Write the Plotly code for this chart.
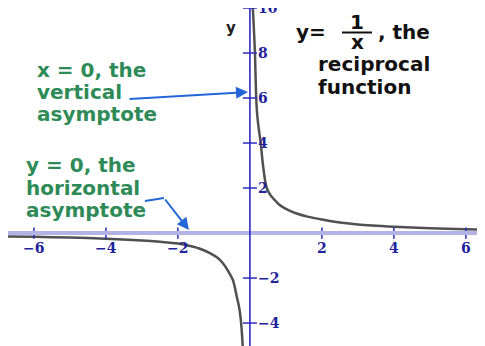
import plotly.graph_objects as go

# page is 485x346, the plot div sits 8px in from the top-left corner
W, H = 477, 338

# curve points
pos_x = [0.07, 0.1, 0.14, 0.17, 0.2, 0.24, 0.3, 0.34, 0.38, 0.42, 0.46, 0.52, 0.6, 0.7, 0.8, 0.95, 1.1, 1.3,
         1.6, 2.0, 2.5, 3.0, 4.0, 5.0, 6.0, 6.6]
pos_y = [10.3, 9.4, 8.0, 6.2, 5.3, 4.7, 4.0, 3.35, 2.8, 2.35, 2.05, 1.82, 1.62, 1.45, 1.28, 1.12, 1.0, 0.87,
         0.73, 0.6, 0.47, 0.38, 0.28, 0.21, 0.17, 0.15]
neg_x = [-6.75, -6.0, -5.0, -4.0, -3.0, -2.5, -2.0, -1.6, -1.39, -1.1, -0.9, -0.75, -0.6, -0.47, -0.36, -0.3, -0.26, -0.22, -0.2]
neg_y = [-0.15, -0.17, -0.2, -0.25, -0.33, -0.39, -0.47, -0.6, -0.7, -0.9, -1.1, -1.34, -1.7, -2.1, -2.86, -3.3, -3.75, -4.5, -5.05]

x_ticks = [-6, -4, -2, 2, 4, 6]
x_tick_labels = ["\u22126", "\u22124", "\u22122", "2", "4", "6"]
y_ticks = [10, 8, 6, 4, 2, -2, -4]
y_tick_labels = ["10", "8", "6", "4", "2", "\u22122", "\u22124"]

XMIN, XMAX = -6.72, 6.53
YMIN, YMAX = -5.02, 10.0

blue = "#2a2ac0"
tick_blue = "#22229c"
green = "#2e8b57"
arrow_blue = "#2366d8"
curve = "#505050"


def px(X):
    return (X - 8) / W


def py(Y):
    return 1 - (Y - 8) / H


fig = go.Figure()

# axes
fig.add_shape(type="line", x0=XMIN, x1=XMAX, y0=0, y1=0, line=dict(color="#b3b3e6", width=4))
fig.add_shape(type="line", x0=0, x1=0, y0=YMIN, y1=YMAX, line=dict(color=blue, width=1.6))

fig.add_trace(go.Scatter(x=pos_x, y=pos_y, mode="lines",
                         line=dict(color=curve, width=2.5, shape="spline", smoothing=0.8),
                         showlegend=False, hoverinfo="skip"))
fig.add_trace(go.Scatter(x=neg_x, y=neg_y, mode="lines",
                         line=dict(color=curve, width=2.5, shape="spline", smoothing=0.8),
                         showlegend=False, hoverinfo="skip"))

# tick marks
fig.add_trace(go.Scatter(x=x_ticks, y=[0] * len(x_ticks), mode="markers",
                         marker=dict(symbol="line-ns-open", size=8, color=blue, line=dict(color=blue, width=1.5)),
                         showlegend=False, hoverinfo="skip"))
fig.add_trace(go.Scatter(x=[0] * len(y_ticks), y=y_ticks, mode="markers",
                         marker=dict(symbol="line-ew-open", size=10, color=blue, line=dict(color=blue, width=1.5)),
                         showlegend=False, hoverinfo="skip"))

tick_font = dict(family="DejaVu Serif", size=14, color=tick_blue, weight="bold")
for t, lab in zip(x_ticks, x_tick_labels):
    fig.add_annotation(x=t, y=0, text=lab, showarrow=False, yshift=-15, font=tick_font)
for t, lab in zip(y_ticks, y_tick_labels):
    fig.add_annotation(x=0, y=t, text=lab, showarrow=False, xanchor="left", xshift=6, font=tick_font)

ann_font = dict(family="DejaVu Sans", size=20, weight="bold")


def label(X, Y, txt, color, anchor="left"):
    fig.add_annotation(x=px(X), y=py(Y), xref="paper", yref="paper", xanchor=anchor, yanchor="middle",
                       text=txt, showarrow=False, font=dict(color=color, **ann_font))


# axis name
fig.add_annotation(x=px(231), y=py(17), xref="paper", yref="paper", text="y", showarrow=False,
                   font=dict(family="DejaVu Sans", size=15, color="#222222", weight="bold"))

# green labels
for i, line in enumerate(["x = 0, the", "vertical", "asymptote"]):
    label(35, 70 + 22 * i, line, green)
for i, line in enumerate(["y = 0, the", "horizontal", "asymptote"]):
    label(24, 165 + 22.5 * i, line, green)

# arrows
fig.add_annotation(x=px(248), y=py(92), xref="paper", yref="paper", ax=-120, ay=7, text="",
                   showarrow=True, arrowhead=2, arrowsize=1.2, arrowwidth=2, arrowcolor=arrow_blue)
fig.add_shape(type="line", xref="paper", yref="paper", x0=px(145), y0=py(201), x1=px(164), y1=py(198),
              line=dict(color=arrow_blue, width=2))
fig.add_annotation(x=px(189), y=py(230), xref="paper", yref="paper", ax=-25, ay=-32, text="",
                   showarrow=True, arrowhead=2, arrowsize=1.2, arrowwidth=2, arrowcolor=arrow_blue)

# black title text with fraction
black = "#111111"
label(294, 32, "y=", black)
label(357, 22, "1", black, anchor="center")
fig.add_shape(type="line", xref="paper", yref="paper", x0=px(342), x1=px(372), y0=py(32.5), y1=py(32.5),
              line=dict(color=black, width=2))
label(357, 42, "x", black, anchor="center")
label(376, 32, ", the", black)
label(316, 64, "reciprocal", black)
label(316, 87, "function", black)

fig.update_xaxes(range=[XMIN, XMAX], visible=False)
fig.update_yaxes(range=[YMIN, YMAX], visible=False)
fig.update_layout(width=W, height=H, margin=dict(l=0, r=0, t=0, b=0),
                  plot_bgcolor="white", paper_bgcolor="white")

fig.write_html("out.html")
